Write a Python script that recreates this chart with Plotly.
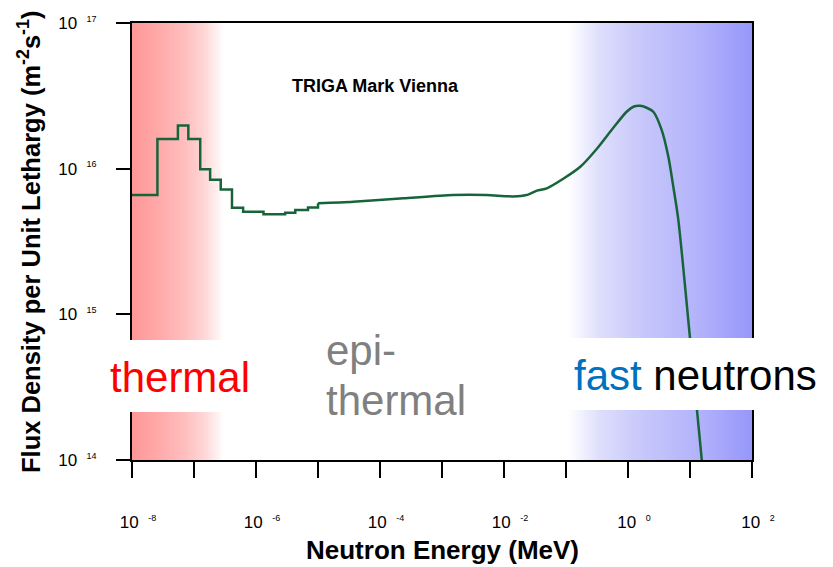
import plotly.graph_objects as go

# ---------------- data ----------------
# thermal / low-epithermal region drawn as steps (start energy of each step, MeV)
step_energy = [1e-8, 2.57e-8, 5.5e-8, 8.1e-8, 1.26e-7, 1.82e-7, 2.7e-7, 4.1e-7,
               6.2e-7, 1.32e-6, 2.95e-6, 4.3e-6, 6.9e-6, 1.0e-5]
step_flux = [6.6e15, 1.6e16, 1.98e16, 1.6e16, 9.9e15, 8.4e15, 7.2e15, 5.4e15,
             5.06e15, 4.86e15, 4.98e15, 5.2e15, 5.42e15, 5.78e15]

# smooth part (epithermal + fast peak)
smooth_energy = [1.0e-5, 3.7e-5, 2.4e-4, 1.5e-3, 5.2e-3, 1.4e-2, 2.3e-2, 3.4e-2,
                 4.9e-2, 8.9e-2, 0.17, 0.31, 0.58, 0.95, 1.22, 1.56, 2.0, 2.56, 3.5, 4.47,
                 5.38, 6.49, 10.0, 15.5, 17.5]
smooth_flux = [5.78e15, 5.93e15, 6.26e15, 6.59e15, 6.59e15, 6.45e15, 6.59e15, 7.07e15,
               7.33e15, 8.49e15, 1.03e16, 1.36e16, 1.91e16, 2.46e16, 2.66e16, 2.70e16,
               2.62e16, 2.46e16, 1.84e16, 1.21e16, 7.52e15, 4.44e15, 6.87e14, 1.0e14, 5.8e13]

x_tick_exponents = [-8, -7, -6, -5, -4, -3, -2, -1, 0, 1, 2]
x_labelled_exponents = [-8, -6, -4, -2, 0, 2]
y_tick_exponents = [14, 15, 16, 17]

title_text = "TRIGA Mark Vienna"
x_title = "Neutron Energy (MeV)"
y_title = "Flux Density per Unit Lethargy (m<sup>-2</sup>s<sup>-1</sup>)"

# ---------------- styling ----------------
FONT = "Liberation Sans, Arial, sans-serif"
LINE_COLOR = "#17643a"
W, H = 833, 567
L, R, T, B = 132, 752, 23, 460   # plot area in pixels


def px_to_paper_x(px):
    return (px - L) / (R - L)


def px_to_paper_y(py):
    return (B - py) / (B - T)


def exp_label(e, size=9):
    return "10\u00a0\u00a0<sup><span style='font-size:%dpx'>%d</span></sup>" % (size, e)


fig = go.Figure()

fig.add_trace(go.Scatter(
    x=step_energy, y=step_flux, mode="lines",
    line=dict(color=LINE_COLOR, width=2.5, shape="hv"),
    hoverinfo="skip"))
fig.add_trace(go.Scatter(
    x=smooth_energy, y=smooth_flux, mode="lines",
    line=dict(color=LINE_COLOR, width=2.5, shape="spline", smoothing=0.7),
    hoverinfo="skip"))

shapes = []


def lerp(stops, p):
    for (p0, c0), (p1, c1) in zip(stops, stops[1:]):
        if p0 <= p <= p1:
            t = (p - p0) / (p1 - p0) if p1 != p0 else 0
            return tuple(round(a + (b - a) * t) for a, b in zip(c0, c1))
    return stops[-1][1] if p > stops[-1][0] else stops[0][1]


# red gradient (thermal)
red_stops = [(132, (255, 150, 150)), (160, (255, 170, 170)), (185, (255, 190, 190)),
             (205, (255, 215, 215)), (224, (255, 255, 255))]
# blue gradient (fast)
blue_stops = [(568, (255, 255, 255)), (600, (222, 222, 252)), (640, (200, 200, 251)),
              (700, (178, 178, 251)), (752, (150, 150, 250))]

for stops in (red_stops, blue_stops):
    start, end = stops[0][0], stops[-1][0]
    step = 2
    p = start
    while p < end:
        c = lerp(stops, p + step / 2)
        shapes.append(dict(type="rect", xref="paper", yref="paper",
                           x0=px_to_paper_x(p), x1=px_to_paper_x(min(p + step + 0.6, end)),
                           y0=0, y1=1, fillcolor="rgb(%d,%d,%d)" % c,
                           line=dict(width=0), layer="below"))
        p += step

# white boxes behind the big labels
shapes.append(dict(type="rect", xref="paper", yref="paper",
                   x0=px_to_paper_x(100), x1=px_to_paper_x(255),
                   y0=px_to_paper_y(412), y1=px_to_paper_y(340),
                   fillcolor="white", line=dict(width=0), layer="above"))
shapes.append(dict(type="rect", xref="paper", yref="paper",
                   x0=px_to_paper_x(558), x1=px_to_paper_x(770),
                   y0=px_to_paper_y(410), y1=px_to_paper_y(338),
                   fillcolor="white", line=dict(width=0), layer="above"))

annotations = [
    dict(text="thermal", x=px_to_paper_x(108), y=px_to_paper_y(377),
         xanchor="left", yanchor="middle", font=dict(size=42, color="#ff0000", family=FONT)),
    dict(text="epi-", x=px_to_paper_x(324), y=px_to_paper_y(350.5),
         xanchor="left", yanchor="middle", font=dict(size=42, color="#808080", family=FONT)),
    dict(text="thermal", x=px_to_paper_x(324), y=px_to_paper_y(400.5),
         xanchor="left", yanchor="middle", font=dict(size=42, color="#808080", family=FONT)),
    dict(text="<span style='color:#0070c0'>fast</span> neutrons",
         x=px_to_paper_x(572), y=px_to_paper_y(375.5),
         xanchor="left", yanchor="middle", font=dict(size=42, color="#000000", family=FONT)),
    dict(text="<b>%s</b>" % title_text, x=px_to_paper_x(375), y=px_to_paper_y(86),
         xanchor="center", yanchor="middle", font=dict(size=18, color="black", family=FONT)),
    dict(text="<b>%s</b>" % x_title, x=px_to_paper_x(442), y=px_to_paper_y(550),
         xanchor="center", yanchor="middle", font=dict(size=26, color="black", family=FONT)),
    dict(text="<b>%s</b>" % y_title, x=px_to_paper_x(29), y=px_to_paper_y(242), textangle=-90,
         xanchor="center", yanchor="middle", font=dict(size=25.5, color="black", family=FONT)),
]
for a in annotations:
    a.update(xref="paper", yref="paper", showarrow=False)

fig.update_layout(
    width=W, height=H,
    margin=dict(l=L, r=W - R, t=T, b=H - B),
    paper_bgcolor="white", plot_bgcolor="white",
    showlegend=False,
    shapes=shapes,
    annotations=annotations,
    font=dict(family=FONT, color="black"),
)

fig.update_xaxes(
    type="log", range=[-8, 2],
    tickvals=[10.0 ** e for e in x_tick_exponents],
    ticktext=[exp_label(e) if e in x_labelled_exponents else "" for e in x_tick_exponents],
    ticks="outside", ticklen=16, tickwidth=2, tickcolor="black",
    ticklabelstandoff=30, ticklabelshift=6,
    tickfont=dict(size=17, family=FONT, color="black"),
    showline=True, linecolor="black", linewidth=2, mirror=True,
    showgrid=False, zeroline=False,
)
fig.update_yaxes(
    type="log", range=[14, 17],
    tickvals=[10.0 ** e for e in y_tick_exponents],
    ticktext=[exp_label(e) for e in y_tick_exponents],
    ticks="outside", ticklen=14, tickwidth=2, tickcolor="black",
    ticklabelstandoff=16,
    tickfont=dict(size=17, family=FONT, color="black"),
    showline=True, linecolor="black", linewidth=2, mirror=True,
    showgrid=False, zeroline=False,
)

fig.write_html("out.html")
